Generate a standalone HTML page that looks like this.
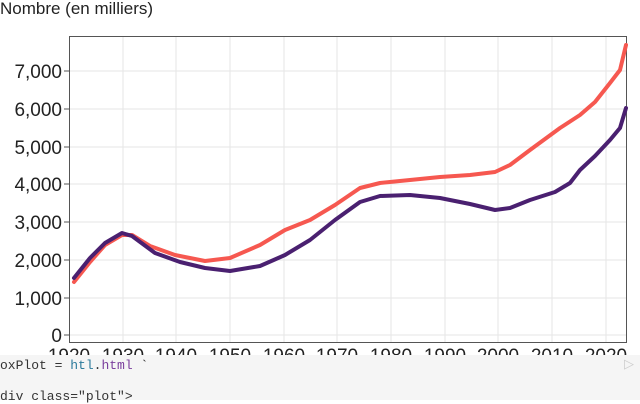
<!DOCTYPE html>
<html><head><style>
body{margin:0;width:640px;height:400px;overflow:hidden;background:#fff;font-family:"Liberation Sans",sans-serif;position:relative}
#code{position:absolute;left:0;top:355px;width:640px;height:45px;background:#f5f5f5;font-family:"Liberation Mono",monospace;font-size:13px;color:#333}
</style></head><body>
<svg width="640" height="400" style="position:absolute;left:0;top:0">
<text x="0" y="14" font-size="17" fill="#222">Nombre (en milliers)</text>
<g stroke="#e6e6e6" stroke-width="1">
<line x1="123" y1="36" x2="123" y2="343"/><line x1="176" y1="36" x2="176" y2="343"/><line x1="230" y1="36" x2="230" y2="343"/><line x1="284" y1="36" x2="284" y2="343"/><line x1="337" y1="36" x2="337" y2="343"/><line x1="391" y1="36" x2="391" y2="343"/><line x1="445" y1="36" x2="445" y2="343"/><line x1="498" y1="36" x2="498" y2="343"/><line x1="552" y1="36" x2="552" y2="343"/><line x1="606" y1="36" x2="606" y2="343"/>
<line x1="69" y1="71" x2="627" y2="71"/><line x1="69" y1="109" x2="627" y2="109"/><line x1="69" y1="147" x2="627" y2="147"/><line x1="69" y1="184" x2="627" y2="184"/><line x1="69" y1="222" x2="627" y2="222"/><line x1="69" y1="260" x2="627" y2="260"/><line x1="69" y1="298" x2="627" y2="298"/><line x1="69" y1="335" x2="627" y2="335"/>
</g>
<rect x="69.5" y="36.5" width="557" height="306" fill="none" stroke="#555" stroke-width="1"/>
<g stroke="#555"><line x1="64" y1="71" x2="69" y2="71"/><line x1="64" y1="109" x2="69" y2="109"/><line x1="64" y1="147" x2="69" y2="147"/><line x1="64" y1="184" x2="69" y2="184"/><line x1="64" y1="222" x2="69" y2="222"/><line x1="64" y1="260" x2="69" y2="260"/><line x1="64" y1="298" x2="69" y2="298"/><line x1="64" y1="335" x2="69" y2="335"/></g>
<g font-size="19" fill="#222" text-anchor="end">
<text x="62" y="78">7,000</text><text x="62" y="116">6,000</text><text x="62" y="154">5,000</text><text x="62" y="191">4,000</text><text x="62" y="229">3,000</text><text x="62" y="267">2,000</text><text x="62" y="305">1,000</text><text x="62" y="342">0</text>
</g>
<g font-size="19" fill="#222" text-anchor="middle">
<text x="69" y="362">1920</text><text x="123" y="362">1930</text><text x="176" y="362">1940</text><text x="230" y="362">1950</text><text x="284" y="362">1960</text><text x="337" y="362">1970</text><text x="391" y="362">1980</text><text x="445" y="362">1990</text><text x="498" y="362">2000</text><text x="552" y="362">2010</text><text x="606" y="362">2020</text>
</g>
<polyline fill="none" stroke="#f65850" stroke-width="4" stroke-linejoin="round" stroke-linecap="round" points="74,282 90,262 105,245 122,235 132,235 150,246 175,255 205,261 230,258 260,245 285,230 310,220 335,205 360,188 380,183 410,180 440,177 470,175 495,172 510,165 530,150 560,128 580,115 595,102 610,83 620,70 626,45"/>
<polyline fill="none" stroke="#4a2070" stroke-width="4" stroke-linejoin="round" stroke-linecap="round" points="74,278 90,258 105,243 122,233 132,236 155,253 180,262 205,268 230,271 260,266 285,255 310,240 335,220 360,202 380,196 410,195 440,198 470,204 495,210 510,208 530,200 555,192 570,183 580,170 595,156 610,140 620,128 626,108"/>
</svg>
<div id="code"><div style="position:absolute;left:0;top:3px">oxPlot = <span style="color:#2b7a9b">htl</span>.<span style="color:#7a3e9d">html</span> `</div><div style="position:absolute;left:0;top:34px">div class="plot"&gt;</div><div style="position:absolute;right:6px;top:2px;color:#ccc">▷</div></div>
</body></html>
